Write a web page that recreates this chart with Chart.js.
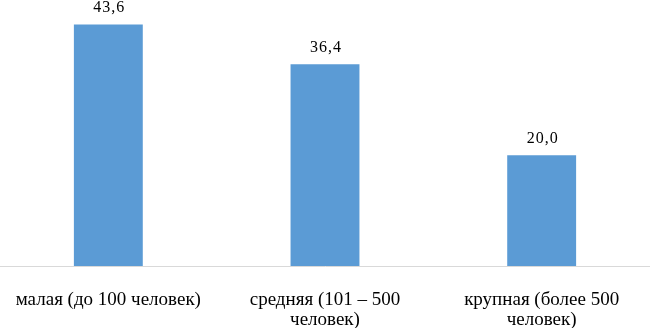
<!DOCTYPE html>
<html>
<head>
<meta charset="utf-8">
<script src="https://cdn.jsdelivr.net/npm/chart.js@4"></script>
<style>
  html, body { margin: 0; padding: 0; background: #fff; }
  #wrap { width: 650px; height: 328px; position: relative; }
</style>
</head>
<body>
<div id="wrap"><canvas id="barChart"></canvas></div>
<script>
// categories (company size) and their shares, %
const categories = [
  "малая (до 100 человек)",
  ["средняя (101 – 500", "человек)"],
  ["крупная (более 500", "человек)"]
];
const shares = [43.6, 36.4, 20.0];
const yMax = 48;

// value labels above the bars, comma as decimal separator
const valueLabels = {
  id: "valueLabels",
  afterDatasetsDraw(chart) {
    const ctx = chart.ctx;
    const meta = chart.getDatasetMeta(0);
    ctx.save();
    ctx.font = "16px 'Liberation Serif'";
    ctx.letterSpacing = "1px";
    ctx.fillStyle = "#000";
    ctx.textAlign = "center";
    ctx.textBaseline = "alphabetic";
    meta.data.forEach((bar, i) => {
      const txt = shares[i].toFixed(1).replace(".", ",");
      ctx.fillText(txt, bar.x + 1, bar.y - 12);
    });
    ctx.restore();
  }
};

new Chart(document.getElementById("barChart").getContext("2d"), {
  type: "bar",
  data: {
    labels: categories,
    datasets: [{
      data: shares,
      backgroundColor: "#5b9bd5",
      categoryPercentage: 1,
      barPercentage: 0.318
    }]
  },
  options: {
    responsive: true,
    maintainAspectRatio: false,
    animation: false,
    layout: { padding: 0 },
    plugins: {
      legend: { display: false },
      tooltip: { enabled: false }
    },
    scales: {
      x: {
        grid: { display: false, drawTicks: false },
        border: { display: true, color: "#d9d9d9", width: 1 },
        ticks: {
          color: "#000",
          padding: 24,
          maxRotation: 0,
          autoSkip: false,
          font: { family: "'Liberation Serif'", size: 19, lineHeight: 1.05 }
        },
        afterFit: s => {
          // keep the plot spanning the full width
          s.height = 62;
          s.paddingLeft = 0;
          s.paddingRight = 0;
        }
      },
      y: {
        display: false,
        min: 0,
        max: yMax
      }
    }
  },
  plugins: [valueLabels]
});
</script>
</body>
</html>
